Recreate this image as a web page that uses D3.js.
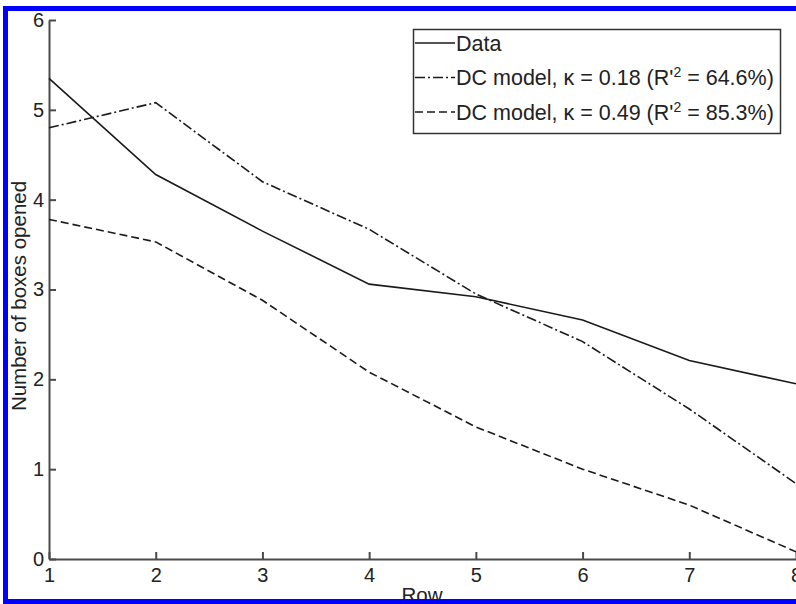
<!DOCTYPE html>
<html>
<head>
<meta charset="utf-8">
<script src="https://cdn.jsdelivr.net/npm/d3@7"></script>
<style>
    body { margin: 0; background: #fff; }
    text { font-family: "Liberation Sans", Arial, sans-serif; fill: #222; }
</style>
</head>
<body>
<div id="chart"></div>
<script>
"use strict";

const rows = [1, 2, 3, 4, 5, 6, 7, 8];
const data_values = [5.35, 4.28, 3.65, 3.06, 2.92, 2.66, 2.21, 1.95];
const dc_low_values = [4.8, 5.08, 4.2, 3.67, 2.95, 2.42, 1.67, 0.84];
const dc_high_values = [3.78, 3.53, 2.88, 2.08, 1.47, 1.0, 0.6, 0.08];
const y_ticks = [0, 1, 2, 3, 4, 5, 6];
const legend_labels = [
    {text: 'Data', sup: null, rest: null},
    {text: "DC model, \u03BA = 0.18 (R'", sup: '2', rest: ' = 64.6%)'},
    {text: "DC model, \u03BA = 0.49 (R'", sup: '2', rest: ' = 85.3%)'}
];

const width = 796, height = 604;
const dashes = ['none', '10,3,2,3', '8,4'];
const series = [data_values, dc_low_values, dc_high_values];

const svg = d3.select('#chart').append('svg')
    .attr('width', width)
    .attr('height', height);

svg.append('rect').attr('width', width).attr('height', height).attr('fill', '#fff');

const xScale = d3.scaleLinear().domain([1, 8]).range([49, 796]);
const yScale = d3.scaleLinear().domain([0, 6]).range([559, 20]);

const xAxis = d3.axisBottom(xScale)
    .tickValues(rows)
    .tickFormat(d3.format('d'))
    .tickSizeInner(-7)
    .tickSizeOuter(0)
    .tickPadding(9);

const yAxis = d3.axisLeft(yScale)
    .tickValues(y_ticks)
    .tickFormat(d3.format('d'))
    .tickSizeInner(-7)
    .tickSizeOuter(0)
    .tickPadding(5);

const gx = svg.append('g')
    .attr('transform', `translate(0,${yScale(0)})`)
    .call(xAxis);
const gy = svg.append('g')
    .attr('transform', `translate(${xScale(1)},0)`)
    .call(yAxis);

[gx, gy].forEach(g => {
    g.select('.domain').attr('stroke', '#4a4a4a').attr('stroke-width', 2);
    g.selectAll('.tick line').attr('stroke', '#4a4a4a').attr('stroke-width', 2);
    g.selectAll('.tick text')
        .style('font-family', '"Liberation Sans", Arial, sans-serif')
        .style('font-size', '20px')
        .attr('fill', '#222');
});

const line = d3.line()
    .x((d, i) => xScale(rows[i]))
    .y(d => yScale(d));

svg.selectAll('.series')
    .data(series)
    .enter().append('path')
    .attr('class', 'series')
    .attr('d', d => line(d))
    .attr('fill', 'none')
    .attr('stroke', '#1a1a1a')
    .attr('stroke-width', 1.6)
    .attr('stroke-dasharray', (d, i) => dashes[i]);

// legend
const legend = svg.append('g');
legend.append('rect')
    .attr('x', 413.5).attr('y', 29.5)
    .attr('width', 367).attr('height', 104)
    .attr('fill', '#fff')
    .attr('stroke', '#333')
    .attr('stroke-width', 1.5);

const rowsG = legend.selectAll('.entry')
    .data(legend_labels)
    .enter().append('g')
    .attr('class', 'entry')
    .attr('transform', (d, i) => `translate(0,${43 + i * 34.5})`);

rowsG.append('line')
    .attr('x1', 415).attr('x2', 455)
    .attr('stroke', '#1a1a1a')
    .attr('stroke-width', 1.6)
    .attr('stroke-dasharray', (d, i) => dashes[i]);

const lt = rowsG.append('text')
    .attr('x', 456)
    .attr('y', 7.5)
    .style('font-size', '21.5px');
lt.append('tspan').text(d => d.text);
lt.filter(d => d.sup).append('tspan')
    .attr('dy', -8).style('font-size', '14px').text(d => d.sup);
lt.filter(d => d.rest).append('tspan')
    .attr('dy', 8).text(d => d.rest);

// axis titles
svg.append('text')
    .attr('x', 422).attr('y', 602)
    .attr('text-anchor', 'middle')
    .style('font-size', '20.5px')
    .text('Row');

svg.append('text')
    .attr('transform', 'translate(26,296) rotate(-90)')
    .attr('text-anchor', 'middle')
    .style('font-size', '20.5px')
    .text('Number of boxes opened');

// blue frame
const blue = '#0000ff';
svg.append('rect').attr('x', 3).attr('y', 6).attr('width', 793).attr('height', 5).attr('fill', blue);
svg.append('rect').attr('x', 3).attr('y', 6).attr('width', 5).attr('height', 598).attr('fill', blue);
svg.append('rect').attr('x', 3).attr('y', 599).attr('width', 793).attr('height', 5).attr('fill', blue);
</script>
</body>
</html>
